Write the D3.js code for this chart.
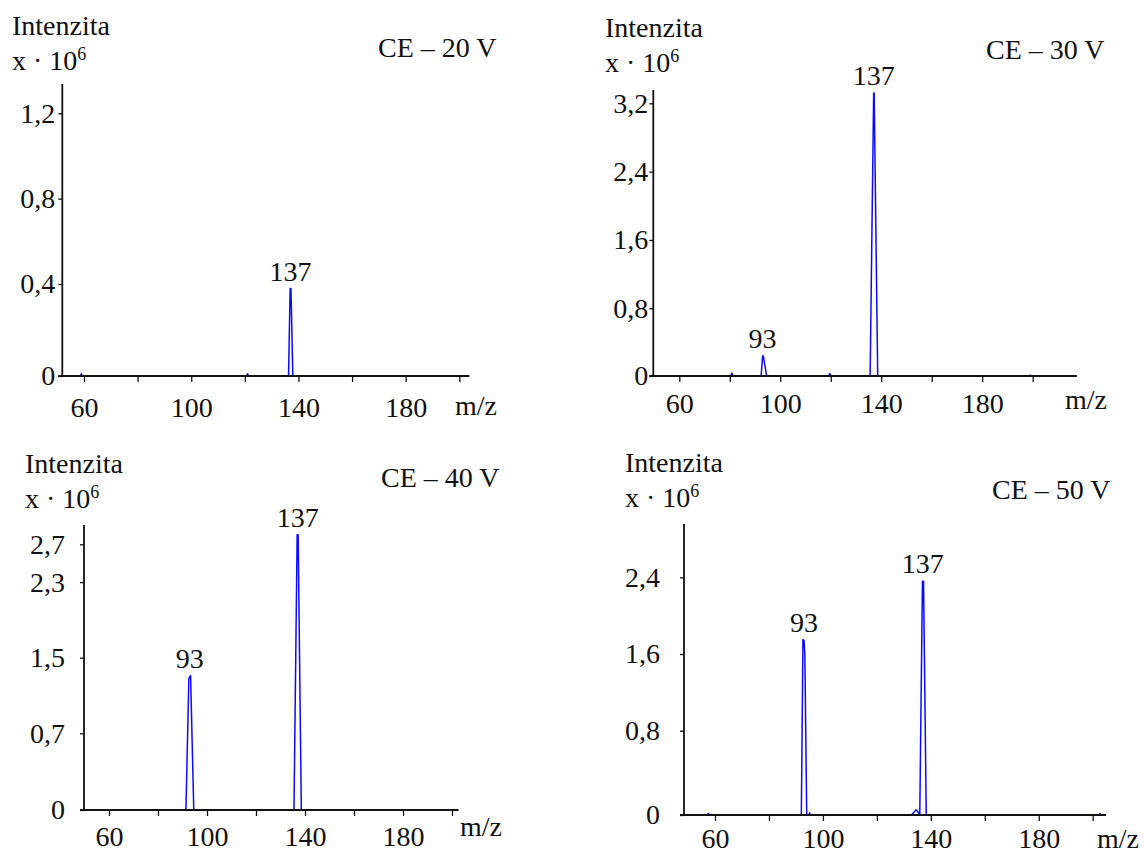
<!DOCTYPE html>
<html>
<head>
<meta charset="utf-8">
<script src="https://cdn.jsdelivr.net/npm/d3@7"></script>
<style>
  html, body { margin: 0; padding: 0; background: #fff; }
</style>
</head>
<body>
<svg id="chart" width="1144" height="854"></svg>
<script>
// ---- data -------------------------------------------------------------
// m/z axis ticks (all panels) and the ones that carry a label
const mzTicks = [60, 80, 100, 120, 140, 160, 180, 200];
const mzTickLabels = [60, 100, 140, 180];

// collision energy of each spectrum
const energies = ["CE – 20 V", "CE – 30 V", "CE – 40 V", "CE – 50 V"];

// intensity ticks, ×10^6
const intTicks20 = [0, 0.4, 0.8, 1.2];
const intTicks30 = [0, 0.8, 1.6, 2.4, 3.2];
const intTicks40 = [0, 0.7, 1.5, 2.3, 2.7];
const intTicks50 = [0, 0.8, 1.6, 2.4];

// product-ion spectra: [m/z, intensity ×10^6]
const spectrum20 = [[51.9,0],[58.6,0],[59,0.01],[59.4,0],[120.6,0],[121,0.01],[121.4,0],
  [136.3,0],[136.9,0.38],[137.2,0.38],[137.9,0],[203.7,0]];
const spectrum30 = [[49.7,0],[80.4,0],[80.8,0.035],[81.2,0],[92.4,0],[93.0,0.235],[93.3,0.235],[94.6,0],
  [119.2,0],[119.6,0.03],[120,0],[135.6,0],[137.0,3.32],[137.2,3.32],[138.6,0],
  [198.8,0],[199,0.01],[199.2,0],[217.4,0]];
const spectrum40 = [[49.8,0],[91.4,0],[92.6,1.28],[93.3,1.31],[94.6,0],
  [135.5,0],[136.8,2.8],[137.2,2.8],[138.5,0],[202.6,0]];
const spectrum50 = [[48.5,0],[57.2,0],[57.5,0.015],[57.8,0],[92.0,0],[92.6,1.75],[93.0,1.74],[93.3,1.6],[94.0,0],
  [94.8,0],[95.1,0.02],[95.4,0],[132.8,0],[133.6,0.02],[134.5,0.05],[135.2,0.03],[135.9,0],
  [136.9,2.36],[137.3,2.36],[138.3,0],[202.4,0],[202.7,0.015],[203,0],[204.9,0]];

// labelled fragment ions per spectrum
const peaks20 = [137];
const peaks30 = [93, 137];
const peaks40 = [93, 137];
const peaks50 = [93, 137];

// ---- layout -----------------------------------------------------------
// pixel frame of each panel: axis ends, tick anchor positions and text spots
const layout = [
  { left: 62.3, right: 469.3, top: 84, base: 376, x60: 84, x200: 459.3, yT1: 284, yTN: 113.3, yPad: 3,
    intX: 12, intY: 35, expY: 70, titleX: 378, titleY: 57, mzX: 455, mzY: 415, xLabY: 41 },
  { left: 653.3, right: 1076.7, top: 90, base: 376, x60: 679.3, x200: 1032.7, yT1: 308.3, yTN: 103.3, yPad: 1,
    intX: 605, intY: 37, expY: 72, titleX: 986, titleY: 59, mzX: 1065, mzY: 409, xLabY: 37 },
  { left: 84, right: 458.3, top: 525, base: 810, x60: 109, x200: 452, yT1: 733.3, yTN: 544.3, yPad: 15,
    intX: 25, intY: 473, expY: 508, titleX: 381, titleY: 487, mzX: 460, mzY: 836, xLabY: 36 },
  { left: 684, right: 1106, top: 524, base: 815, x60: 715, x200: 1092.7, yT1: 730.7, yTN: 577.3, yPad: 20,
    intX: 625, intY: 472, expY: 507, titleX: 992, titleY: 499, mzX: 1097, mzY: 848, xLabY: 33 }
];

const panels = [
  { spectrum: spectrum20, ticks: intTicks20, peaks: peaks20 },
  { spectrum: spectrum30, ticks: intTicks30, peaks: peaks30 },
  { spectrum: spectrum40, ticks: intTicks40, peaks: peaks40 },
  { spectrum: spectrum50, ticks: intTicks50, peaks: peaks50 }
];

const svg = d3.select("#chart");
const FONT = "'Liberation Serif', 'Times New Roman', 'DejaVu Serif', serif";
const FS = 28;
const fmtInt = d => d === 0 ? "0" : d3.format(".1f")(d).replace(".", ",");
const styleText = sel => sel.style("font-family", FONT).style("font-size", FS + "px").attr("fill", "#111");

panels.forEach((p, i) => {
  const L = layout[i];
  const g = svg.append("g");

  const x = d3.scaleLinear().domain([60, 200]).range([L.x60, L.x200]);
  const t1 = p.ticks[1], tN = p.ticks[p.ticks.length - 1];
  const y = d3.scaleLinear().domain([0, t1, tN]).range([L.base, L.yT1, L.yTN]);

  // spectrum trace
  const line = d3.line().x(d => x(d[0])).y(d => y(d[1]));
  g.append("path")
    .datum(p.spectrum)
    .attr("d", line)
    .attr("fill", "none")
    .attr("stroke", "#0a0aff")
    .attr("stroke-width", 1.5)
    .attr("stroke-linejoin", "round");

  // intensity axis
  const yAxis = g.append("g")
    .attr("transform", `translate(${L.left},0)`)
    .call(d3.axisLeft(y).tickValues(p.ticks).tickSize(4).tickSizeOuter(0)
      .tickPadding(L.yPad).tickFormat(fmtInt));
  yAxis.select(".domain").remove();
  yAxis.selectAll(".tick line").attr("stroke", "#111").attr("stroke-width", 1.3);
  yAxis.selectAll("text").call(styleText);
  g.append("line")
    .attr("x1", L.left).attr("x2", L.left)
    .attr("y1", L.top).attr("y2", L.base)
    .attr("stroke", "#111").attr("stroke-width", 1.8);

  // m/z axis
  const xAxis = g.append("g")
    .attr("transform", `translate(0,${L.base})`)
    .call(d3.axisBottom(x).tickValues(mzTicks).tickSize(6).tickSizeOuter(0)
      .tickFormat(d => mzTickLabels.includes(d) ? String(d) : ""));
  xAxis.select(".domain").remove();
  xAxis.selectAll(".tick line").attr("stroke", "#111").attr("stroke-width", 1.3);
  xAxis.selectAll("text").attr("y", L.xLabY).attr("dy", null).call(styleText);
  g.append("line")
    .attr("x1", L.left - 4).attr("x2", L.right)
    .attr("y1", L.base).attr("y2", L.base)
    .attr("stroke", "#111").attr("stroke-width", 1.8);

  // peak annotations
  p.peaks.forEach(mz => {
    const near = p.spectrum.filter(d => Math.abs(d[0] - mz) <= 2);
    const top = d3.max(near, d => d[1]);
    g.append("text")
      .attr("x", x(mz)).attr("y", y(top) - 8)
      .attr("text-anchor", "middle")
      .call(styleText)
      .text(String(mz));
  });

  // axis captions and collision energy
  g.append("text").attr("x", L.intX).attr("y", L.intY).call(styleText).text("Intenzita");
  const ex = g.append("text").attr("x", L.intX).attr("y", L.expY).call(styleText);
  ex.append("tspan").text("x · 10");
  ex.append("tspan").style("font-size", "18px").attr("dy", -10).text("6");
  g.append("text").attr("x", L.titleX).attr("y", L.titleY).call(styleText).text(energies[i]);
  g.append("text").attr("x", L.mzX).attr("y", L.mzY).call(styleText).text("m/z");
});
</script>
</body>
</html>
